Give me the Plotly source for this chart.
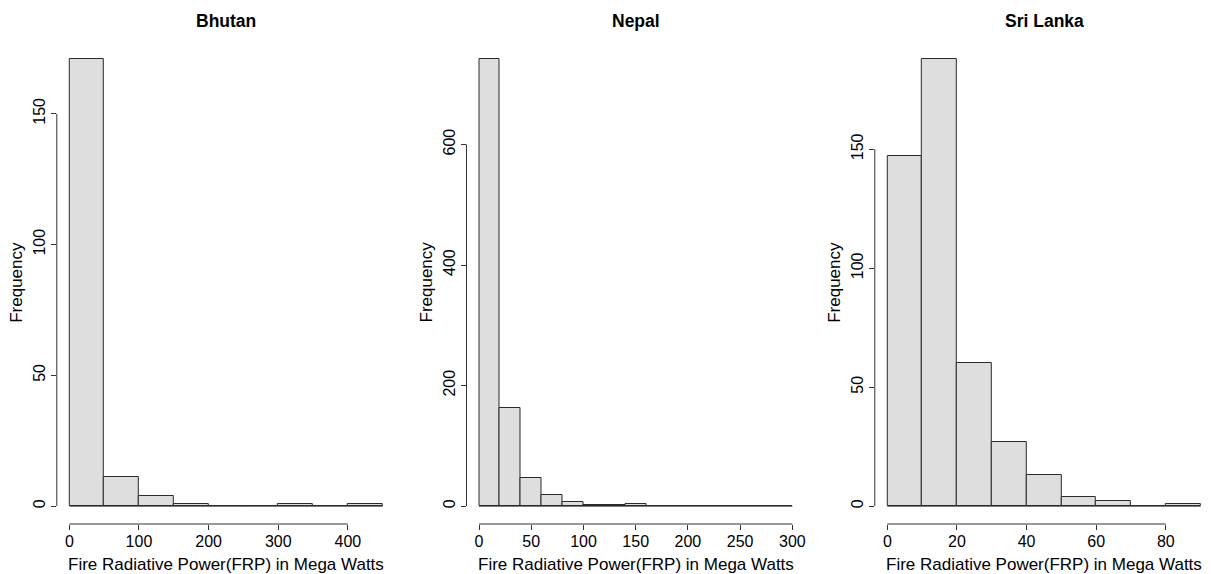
import plotly.graph_objects as go

# ---------------- data ----------------
countries = ["Bhutan", "Nepal", "Sri Lanka"]

bhutan_breaks = [0, 50, 100, 150, 200, 250, 300, 350, 400, 450]
bhutan_counts = [171, 11, 4, 1, 0, 0, 1, 0, 1]

nepal_breaks = [0, 20, 40, 60, 80, 100, 120, 140, 160, 180, 200, 220, 240, 260, 280, 300]
nepal_counts = [742, 163, 47, 18, 6, 2, 2, 4, 0, 0, 0, 0, 0, 1, 1]

srilanka_breaks = [0, 10, 20, 30, 40, 50, 60, 70, 80, 90]
srilanka_counts = [147, 188, 60, 27, 13, 4, 2, 0, 1]

bhutan_xticks = [0, 100, 200, 300, 400]
nepal_xticks = [0, 50, 100, 150, 200, 250, 300]
srilanka_xticks = [0, 20, 40, 60, 80]

bhutan_yticks = [0, 50, 100, 150]
nepal_yticks = [0, 200, 400, 600]
srilanka_yticks = [0, 50, 100, 150]

x_title = "Fire Radiative Power(FRP) in Mega Watts"
y_title = "Frequency"

panels = [
    (countries[0], bhutan_breaks, bhutan_counts, bhutan_xticks, bhutan_yticks),
    (countries[1], nepal_breaks, nepal_counts, nepal_xticks, nepal_yticks),
    (countries[2], srilanka_breaks, srilanka_counts, srilanka_xticks, srilanka_yticks),
]

# ---------------- layout geometry (page pixels) ----------------
PAGE_W, PAGE_H = 1211, 574
OFF = 8  # default body margin of the html page
W, H = PAGE_W - OFF, PAGE_H - OFF


def fx(p):
    return (p - OFF) / W


def fy(p):
    return 1 - (p - OFF) / H


FONT = "Liberation Sans, Arial, Helvetica, sans-serif"
panel_left = [56.8, 466.5, 874.8]
panel_width = 338.4
plot_top, plot_bottom = 41.0, 524.0
fill_col = "#DDDEDD"
line_col = "#2b2b2b"
axis_col = "#333333"

fig = go.Figure()
annotations = []
shapes = []
layout_axes = {}

for i, (name, breaks, counts, xticks, yticks) in enumerate(panels):
    n = i + 1
    xa = "x" if n == 1 else f"x{n}"
    ya = "y" if n == 1 else f"y{n}"
    mids = [(a + b) / 2 for a, b in zip(breaks[:-1], breaks[1:])]
    widths = [b - a for a, b in zip(breaks[:-1], breaks[1:])]
    fig.add_trace(go.Bar(
        x=mids, y=counts, width=widths, xaxis=xa, yaxis=ya,
        marker=dict(color=fill_col, line=dict(color=line_col, width=1)),
        showlegend=False, hoverinfo="x+y",
    ))

    # R-style ranges: extend data range by 4%
    span = breaks[-1] - breaks[0]
    r0 = breaks[0] - 0.04 * span
    r1 = breaks[-1] + 0.04 * span
    left = panel_left[i]
    right_full = left + panel_width
    right = min(right_full, PAGE_W)
    r1c = r0 + (r1 - r0) * (right - left) / panel_width
    ymax = max(counts)
    yr = [-0.04 * ymax, 1.04 * ymax]

    xkey = "xaxis" if n == 1 else f"xaxis{n}"
    ykey = "yaxis" if n == 1 else f"yaxis{n}"
    layout_axes[xkey] = dict(
        domain=[fx(left), min(fx(right), 1.0)], range=[r0, r1c], anchor=ya,
        showgrid=False, zeroline=False, showline=False,
        tickmode="array", tickvals=xticks, ticktext=[str(v) for v in xticks],
        ticks="outside", ticklen=5, tickwidth=1, tickcolor=axis_col,
        tickfont=dict(family=FONT, size=16, color="black"),
        ticklabelstandoff=-2,
        fixedrange=True,
    )
    layout_axes[ykey] = dict(
        domain=[fy(plot_bottom), fy(plot_top)], range=yr, anchor=xa,
        showgrid=False, zeroline=False, showline=False,
        tickmode="array", tickvals=yticks, ticktext=[str(v) for v in yticks],
        ticks="outside", ticklen=5, tickwidth=1, tickcolor=axis_col,
        tickangle=-90,
        tickfont=dict(family=FONT, size=16, color="black"),
        ticklabelstandoff=-1,
        fixedrange=True,
    )

    # axis lines spanning only the tick range (R style)
    shapes.append(dict(type="line", xref=xa, yref=f"{ya} domain",
                       x0=xticks[0], x1=xticks[-1], y0=0, y1=0,
                       line=dict(color=axis_col, width=1)))
    shapes.append(dict(type="line", xref=f"{xa} domain", yref=ya,
                       x0=0, x1=0, y0=yticks[0], y1=yticks[-1],
                       line=dict(color=axis_col, width=1)))
    # baseline under zero-height bins
    shapes.append(dict(type="line", xref=xa, yref=ya,
                       x0=breaks[0], x1=breaks[-1], y0=0, y1=0,
                       line=dict(color=line_col, width=1)))

    cxp = (left + right_full) / 2
    annotations.append(dict(text=f"<b>{name}</b>", xref="paper", yref="paper",
                            x=fx(cxp), y=fy(20.7), xanchor="center", yanchor="middle",
                            showarrow=False, font=dict(family=FONT, size=17.5, color="black")))
    annotations.append(dict(text=x_title, xref="paper", yref="paper",
                            x=fx(cxp), y=fy(564.0), xanchor="center", yanchor="middle",
                            showarrow=False, font=dict(family=FONT, size=17, color="black")))
    annotations.append(dict(text=y_title, xref="paper", yref="paper",
                            x=fx(left - 40.5), y=fy((plot_top + plot_bottom) / 2),
                            xanchor="center", yanchor="middle", textangle=-90,
                            showarrow=False, font=dict(family=FONT, size=17, color="black")))

fig.update_layout(
    width=W, height=H,
    margin=dict(l=0, r=0, t=0, b=0),
    paper_bgcolor="white", plot_bgcolor="white",
    bargap=0,
    annotations=annotations,
    shapes=shapes,
    **layout_axes,
)

fig.write_html("out.html")
